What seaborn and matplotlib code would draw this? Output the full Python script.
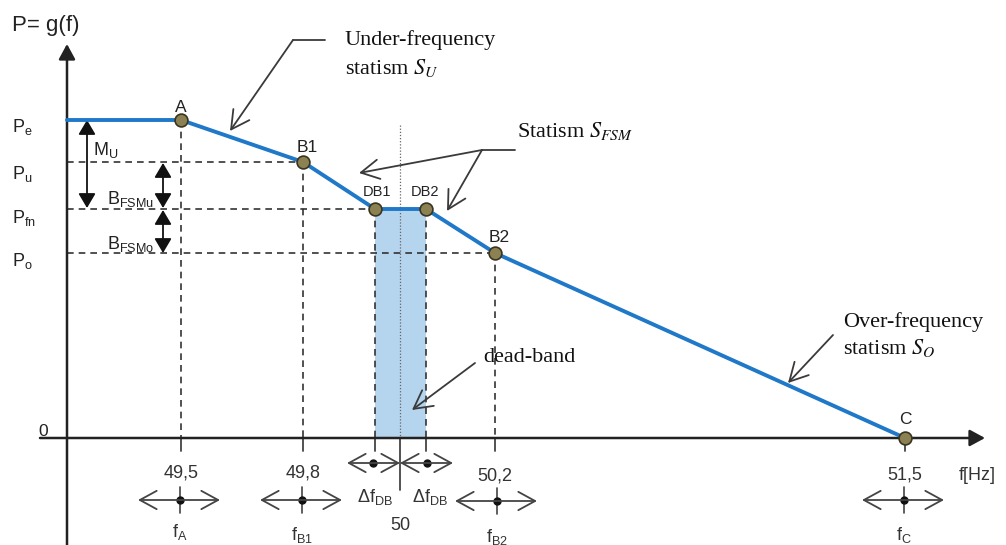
import numpy as np
import pandas as pd
import seaborn as sns
import matplotlib
matplotlib.use("Agg")
import matplotlib.pyplot as plt

sns.set_theme(style="white")
plt.rcParams["font.family"] = ["Liberation Sans", "DejaVu Sans"]
plt.rcParams["mathtext.fontset"] = "custom"
plt.rcParams["mathtext.rm"] = "Liberation Sans"
plt.rcParams["mathtext.it"] = "Liberation Sans:italic"
plt.rcParams["mathtext.bf"] = "Liberation Sans:bold"

# ---------------- data (schematic canvas units, y grows downward) ----------------
point_names = ["A", "B1", "DB1", "DB2", "B2", "C"]
point_x = [181, 303, 375, 426, 495, 905]
point_y = [120, 162, 209, 209, 253, 438]
curve_x = [67] + point_x
curve_y = [120] + point_y

level_labels = [r"P$_\mathrm{e}$", r"P$_\mathrm{u}$", r"P$_\mathrm{fn}$", r"P$_\mathrm{o}$", "0"]
level_y = [120, 162, 209, 253, 438]

freq_ticks = ["49,5", "49,8", "50,2", "51,5"]
freq_x = [181, 303, 495, 905]
freq_names = [r"f$_\mathrm{A}$", r"f$_\mathrm{B1}$", r"f$_\mathrm{B2}$", r"f$_\mathrm{C}$"]
nominal_label = "50"
nominal_x = 400
deadband_x = [375, 426]

BLUE = "#1f78c8"
DARK = "#2b2b2b"
GRAY = "#444444"

fig = plt.figure(figsize=(10.06, 5.45), dpi=100)
ax = fig.add_axes([0, 0, 1, 1])

# dead band shading
ax.fill_between(deadband_x, [point_y[2]] * 2, [point_y[5]] * 2, color="#b5d4ee", lw=0, zorder=1)

dash = dict(color="#333333", lw=1.2, ls=(0, (4, 3)), zorder=2)
# vertical dashed guides
for xv, yv in zip(point_x[:5], point_y[:5]):
    ax.plot([xv, xv], [yv, 438], **dash)
# horizontal dashed guides
for xv, yv in [(303, 162), (375, 209), (495, 253)]:
    ax.plot([67, xv], [yv, yv], **dash)
# center line (nominal frequency)
ax.plot([nominal_x, nominal_x], [125, 438], color="#666666", lw=0.9, ls=(0, (1, 1.5)), zorder=2)
ax.plot([nominal_x, nominal_x], [438, 490], color=GRAY, lw=1.3, zorder=2)

# ticks on f axis
for xv in point_x:
    ax.plot([xv, xv], [438, 451], color=GRAY, lw=1.3, zorder=2)

# axes arrows
axis_arrow = dict(arrowstyle="-|>,head_length=0.46,head_width=0.25", color="#222222", lw=1.8,
                  mutation_scale=20, shrinkA=0, shrinkB=0)
ax.annotate("", xy=(67, 44), xytext=(67, 545), arrowprops=axis_arrow, zorder=3)
ax.annotate("", xy=(985, 438), xytext=(40, 438), arrowprops=axis_arrow, zorder=3)

# characteristic curve
df = pd.DataFrame({"f": curve_x, "P": curve_y})
sns.lineplot(data=df, x="f", y="P", sort=False, color=BLUE, lw=2.8, ax=ax, zorder=4)
pts = pd.DataFrame({"f": point_x, "P": point_y, "name": point_names})
sns.scatterplot(data=pts, x="f", y="P", s=85, color="#8c8152", edgecolor="#3a3520", linewidth=1.2, ax=ax, zorder=6)

# point labels
lab_off = {"A": (0, -13), "B1": (4, -15), "DB1": (2, -17), "DB2": (-1, -17), "B2": (4, -16), "C": (0, -18)}
for n, xv, yv in zip(point_names, point_x, point_y):
    dx, dy = lab_off[n]
    fs = 10.5 if n.startswith("DB") else 12.5
    ax.text(xv + dx, yv + dy, n, ha="center", va="center", fontsize=fs, color="#222222")

# y labels
ax.text(12, 26, "P= g(f)", fontsize=16, va="center", ha="left", color="#222222")
y_lab_pos = [127, 174, 218, 261]
for lab, yy in zip(level_labels[:4], y_lab_pos):
    ax.text(12, yy, lab, fontsize=13, va="center", ha="left", color="#222222")
ax.text(38, 432, level_labels[4], fontsize=12.5, va="center", ha="left", color="#222222")

# M_U and B_FSM arrows (filled heads)
fill_arrow = dict(arrowstyle="<|-|>,head_length=0.44,head_width=0.26", color="#111111", lw=1.3,
                  mutation_scale=20, shrinkA=0, shrinkB=0)
ax.annotate("", xy=(87, 120), xytext=(87, 208), arrowprops=fill_arrow)
ax.annotate("", xy=(163, 163), xytext=(163, 208), arrowprops=fill_arrow)
ax.annotate("", xy=(163, 210), xytext=(163, 253), arrowprops=fill_arrow)
ax.text(93, 150, r"M$_\mathrm{U}$", fontsize=13, va="center", ha="left", color="#222222")
ax.text(107, 199, r"B$_\mathrm{FSMu}$", fontsize=13, va="center", ha="left", color="#222222")
ax.text(107, 244, r"B$_\mathrm{FSMo}$", fontsize=13, va="center", ha="left", color="#222222")

# frequency tick labels
tick_y = [473, 473, 476, 475]
for lab, xv, yy in zip(freq_ticks, freq_x, tick_y):
    ax.text(xv, yy, lab, fontsize=13, ha="center", va="center", color="#333333")
ax.text(nominal_x, 526, nominal_label, fontsize=13, ha="center", va="center", color="#333333")
ax.text(977, 476, "f[Hz]", fontsize=13, ha="center", va="center", color="#333333")

# tolerance double arrows
open_arrow = dict(arrowstyle="<->,head_length=0.55,head_width=0.3", color=GRAY, lw=1.3,
                  mutation_scale=22, shrinkA=0, shrinkB=0)
arr_y = [500, 500, 501, 500]
centers = [180, 302, 497, 904]
for c, yy in zip(centers, arr_y):
    ax.annotate("", xy=(c - 42, yy), xytext=(c + 40, yy), arrowprops=open_arrow)
    ax.plot([c, c], [yy - 13, yy + 13], color=GRAY, lw=1.2)
    ax.plot([c], [yy], "o", color="#111111", ms=5)
name_y = [532, 535, 537, 535]
for lab, c, yy in zip(freq_names, centers, name_y):
    ax.text(c, yy, lab, fontsize=13, ha="center", va="center", color="#333333")

# dead-band half width arrows
ax.annotate("", xy=(347, 463), xytext=(400, 463), arrowprops=open_arrow)
ax.annotate("", xy=(453, 463), xytext=(400, 463), arrowprops=open_arrow)
ax.plot([373, 427], [463, 463], "o", color="#111111", ms=5, ls="none")
ax.text(375, 497, r"$\Delta$f$_\mathrm{DB}$", fontsize=13, ha="center", va="center", color="#333333")
ax.text(430, 497, r"$\Delta$f$_\mathrm{DB}$", fontsize=13, ha="center", va="center", color="#333333")

# serif annotations
serif = dict(family=["Liberation Serif", "DejaVu Serif"], fontsize=16, color="#111111", math_fontfamily="stix")
ann_arrow = dict(arrowstyle="->,head_length=0.65,head_width=0.35", color="#3a3a3a", lw=1.3,
                 mutation_scale=20, shrinkA=0, shrinkB=0)
ann_line = dict(color="#3a3a3a", lw=1.3)

ax.text(345, 40, "Under-frequency", va="center", ha="left", **serif)
ax.text(345, 68, r"statism $S_U$", va="center", ha="left", **serif)
ax.plot([325, 293], [40, 40], **ann_line)
ax.annotate("", xy=(230, 131), xytext=(293, 40), arrowprops=ann_arrow)

ax.text(517, 131, r"Statism $S_{FSM}$", va="center", ha="left", **serif)
ax.plot([515, 482], [150, 150], **ann_line)
ax.annotate("", xy=(359, 173), xytext=(482, 150), arrowprops=ann_arrow)
ax.annotate("", xy=(447, 211), xytext=(482, 150), arrowprops=ann_arrow)

ax.text(483, 358, "dead-band", va="center", ha="left", **serif)
ax.annotate("", xy=(412, 410), xytext=(475, 363), arrowprops=ann_arrow)

ax.text(843, 322, "Over-frequency", va="center", ha="left", **serif)
ax.text(843, 348, r"statism $S_O$", va="center", ha="left", **serif)
ax.annotate("", xy=(788, 383), xytext=(833, 335), arrowprops=ann_arrow)

ax.set_xlim(0, 1006)
ax.set_ylim(545, 0)
ax.axis("off")
if ax.get_legend():
    ax.get_legend().remove()

fig.savefig("out.png", dpi=100, facecolor="white")
